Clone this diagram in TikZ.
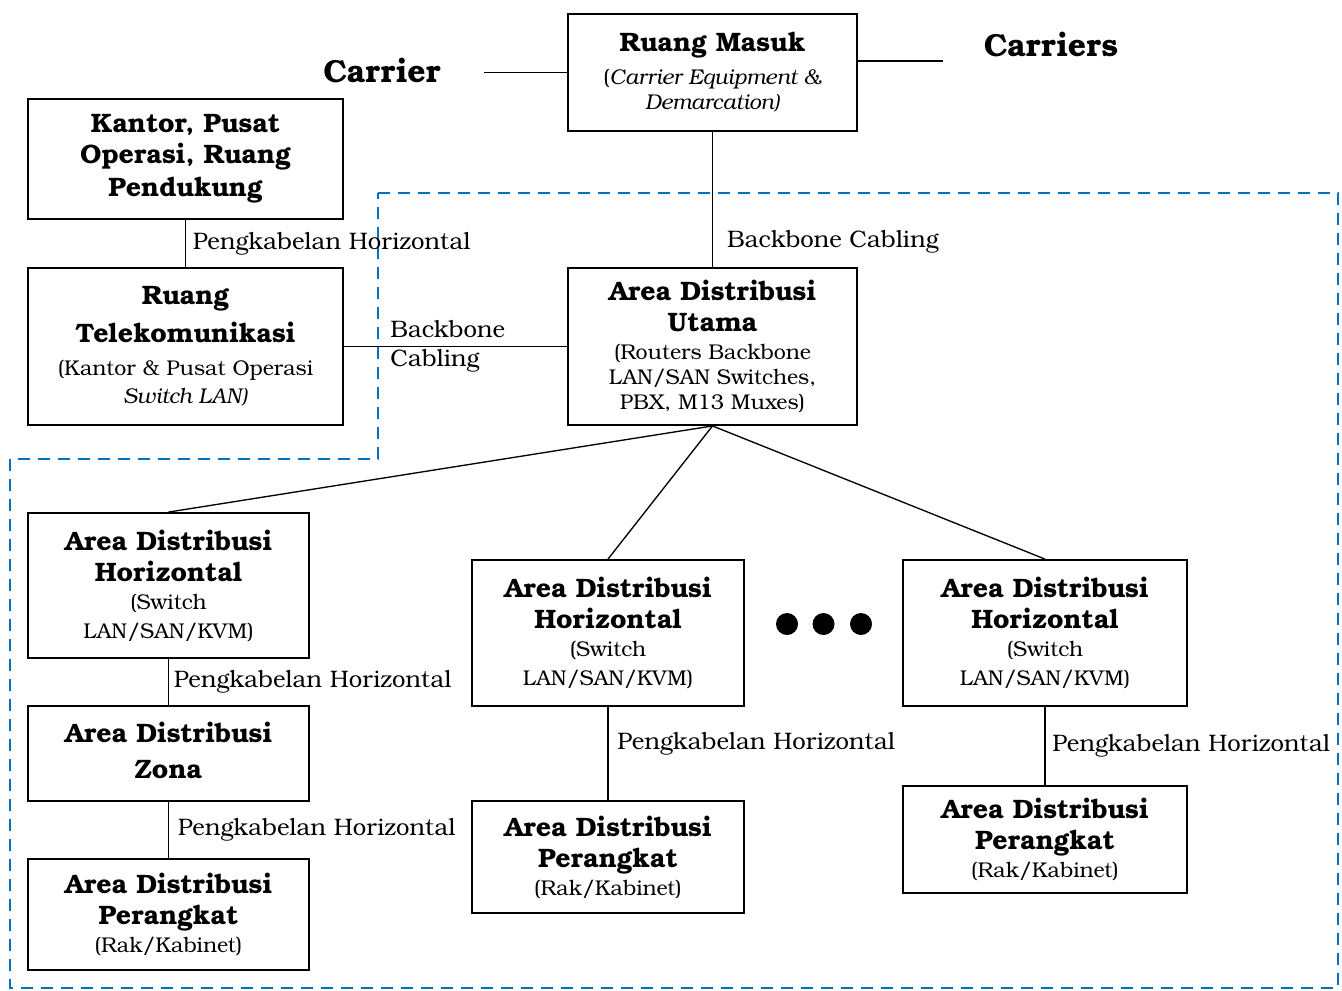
\documentclass[tikz,border=0pt]{standalone}
\usepackage{fontspec}
\setmainfont{texgyrebonum}[Extension=.otf, UprightFont=*-regular, BoldFont=*-bold, ItalicFont=*-italic, BoldItalicFont=*-bolditalic]
\newcommand{\tf}{\fontsize{20}{18.75}\selectfont\bfseries}
\newcommand{\sfn}{\fontsize{16}{18.75}\selectfont\mdseries}
\newcommand{\lf}{\fontsize{17.9}{21.75}\selectfont}
\definecolor{dblue}{HTML}{0070C0}
\begin{document}
\begin{tikzpicture}[x=0.75pt,y=-0.75pt,
  box/.style={draw, line width=1.4pt, inner sep=0pt, align=center, font=\sfn},
  conn/.style={line width=1pt},
  lbl/.style={font=\lf, inner sep=0pt},
  dot/.style={circle, fill=black, minimum size=16.5pt, inner sep=0pt}]
\useasboundingbox (0,0) rectangle (1342,990);
\draw[dblue, line width=2.2pt, dash pattern=on 9pt off 6pt]
  (378,193) -- (1338,193) -- (1338,988) -- (10,988) -- (10,459) -- (378,459) -- cycle;
% boxes
\node[box, minimum width=216.75pt, minimum height=87.75pt] (rm) at (712.5,72.5)
  {\tf Ruang Masuk\\[6pt]\sfn(\textit{Carrier Equipment \&}\\\sfn\textit{Demarcation)}};
\node[box, minimum width=236.25pt, minimum height=90pt] (kantor) at (185.5,159)
  {\tf Kantor, Pusat\\[4.5pt]\tf Operasi, Ruang\\[4.5pt]\tf Pendukung};
\node[box, minimum width=236.25pt, minimum height=117.75pt] (rt) at (185.5,346.5)
  {\tf Ruang\\[7.5pt]\tf Telekomunikasi\\[6pt]\sfn(Kantor \& Pusat Operasi\\[2.25pt]\sfn\textit{Switch LAN)}};
\node[box, minimum width=216.75pt, minimum height=117.75pt] (adu) at (712.5,346.5)
  {\tf Area Distribusi\\[4.5pt]\tf Utama\\[2.25pt]\sfn(Routers Backbone\\\sfn LAN/SAN Switches,\\\sfn PBX, M13 Muxes)};
\node[box, minimum width=210.75pt, minimum height=108.75pt] (hda1) at (168.5,585.5)
  {\tf Area Distribusi\\[4.5pt]\tf Horizontal\\[2.25pt]\sfn(Switch\\[3pt]\sfn LAN/SAN/KVM)};
\node[box, minimum width=204pt, minimum height=109.5pt] (hda2) at (608,633)
  {\tf Area Distribusi\\[4.5pt]\tf Horizontal\\[2.25pt]\sfn(Switch\\[3pt]\sfn LAN/SAN/KVM)};
\node[box, minimum width=213pt, minimum height=109.5pt] (hda3) at (1045,633)
  {\tf Area Distribusi\\[4.5pt]\tf Horizontal\\[2.25pt]\sfn(Switch\\[3pt]\sfn LAN/SAN/KVM)};
\node[box, minimum width=210.75pt, minimum height=71.25pt] (zda) at (168.5,753.5)
  {\tf Area Distribusi\\[8pt]\tf Zona\\[-14pt]\mbox{}};
\node[box, minimum width=210.75pt, minimum height=83.25pt] (eda1) at (168.5,914.5)
  {\tf Area Distribusi\\[4.5pt]\tf Perangkat\\[2.25pt]\sfn(Rak/Kabinet)};
\node[box, minimum width=204pt, minimum height=84pt] (eda2) at (608,857)
  {\tf Area Distribusi\\[4.5pt]\tf Perangkat\\[2.25pt]\sfn(Rak/Kabinet)};
\node[box, minimum width=213pt, minimum height=80.25pt] (eda3) at (1045,839.5)
  {\tf Area Distribusi\\[4.5pt]\tf Perangkat\\[2.25pt]\sfn(Rak/Kabinet)};
% carriers
\node[font=\fontsize{23.9}{28}\selectfont\bfseries, inner sep=0pt] (carrier) at (382,70) {Carrier};
\node[font=\fontsize{23.9}{28}\selectfont\bfseries, inner sep=0pt] (carriers) at (1051,44) {Carriers};
\coordinate (c1) at (484,72.5);
\coordinate (c2) at (943,61);
\draw[conn] (c1) -- (rm.west);
\draw[conn] (c2 -| rm.east) -- (c2);
% connectors
\draw[conn] (rm.south) -- (adu.north) node[lbl, pos=0.81, anchor=west, xshift=10.5pt] {Backbone Cabling};
\draw[conn] (kantor.south) -- (rt.north) node[lbl, midway, anchor=west, xshift=5pt] {Pengkabelan Horizontal};
\draw[conn] (rt.east) -- (adu.west) node[lbl, pos=0.205, anchor=west, align=left] {Backbone\\Cabling};
\draw[conn] (adu.south) -- (hda1.north);
\draw[conn] (adu.south) -- (hda2.north);
\draw[conn] (adu.south) -- (hda3.north);
\draw[conn] (hda1.south) -- (zda.north) node[lbl, midway, anchor=west, xshift=3.5pt] {Pengkabelan Horizontal};
\draw[conn] (zda.south) -- (eda1.north) node[lbl, midway, anchor=west, xshift=6.5pt] {Pengkabelan Horizontal};
\draw[conn] (hda2.south) -- (eda2.north) node[lbl, pos=0.4, anchor=west, xshift=6.5pt] {Pengkabelan Horizontal};
\draw[conn] (hda3.south) -- (eda3.north) node[lbl, midway, anchor=west, xshift=5pt] {Pengkabelan Horizontal};
% dots
\node[dot] (dot1) at (787,624) {};
\node[dot] (dot2) at (823.5,624) {};
\node[dot] (dot3) at (861,624) {};
\end{tikzpicture}
\end{document}
